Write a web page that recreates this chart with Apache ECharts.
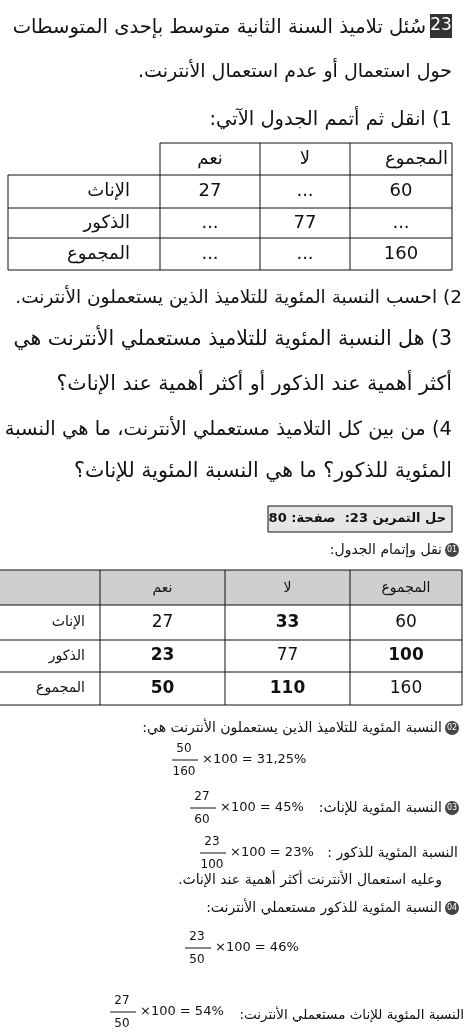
<!DOCTYPE html>
<html><head><meta charset="utf-8">
<script src="https://cdn.jsdelivr.net/npm/echarts@6/dist/echarts.min.js"></script>
<style>html,body{margin:0;padding:0;background:#fff}#c{width:468px;height:1035px}</style>
</head><body><div id="c"></div>
<script>
const headers = ['المجموع','لا','نعم'];
const rowLabels = ['الإناث','الذكور','المجموع'];
const table1 = [['60','...','27'],['...','77','...'],['160','...','...']];
const table2 = [['60','33','27'],['100','77','23'],['160','110','50']];
const boldCells2 = [[false,true,false],[true,false,true],[false,true,true]];
const questions = [
  'سُئل تلاميذ السنة الثانية متوسط بإحدى المتوسطات',
  'حول استعمال أو عدم استعمال الأنترنت.',
  '1) انقل ثم أتمم الجدول الآتي:',
  '2) احسب النسبة المئوية للتلاميذ الذين يستعملون الأنترنت.',
  '3) هل النسبة المئوية للتلاميذ مستعملي الأنترنت هي',
  'أكثر أهمية عند الذكور أو أكثر أهمية عند الإناث؟',
  '4) من بين كل التلاميذ مستعملي الأنترنت، ما هي النسبة',
  'المئوية للذكور؟ ما هي النسبة المئوية للإناث؟'
];
const F = 'DejaVu Sans';
const g = [];
const rtl = s => /[\u0600-\u06FF]/.test(s) ? '\u202B'+s+'\u202C' : s;
function txt(x,y,s,size,align,opt){g.push({type:'text',x:x,y:y,style:Object.assign({text:rtl(s),font:(opt&&opt.bold?'bold ':'')+size+'px "'+F+'"',fill:'#111',align:align||'right',verticalAlign:'middle'},opt&&opt.style||{})});}
function line(x1,y1,x2,y2,w){g.push({type:'line',shape:{x1,y1,x2,y2},style:{stroke:'#111',lineWidth:w||1}});}
function rect(x,y,w,h,fill,stroke){g.push({type:'rect',shape:{x,y,width:w,height:h},style:{fill:fill||'none',stroke:stroke||'none',lineWidth:1}});}
function frac(x,y,n,d,rest,size){
  txt(x+12,y-11,n,size-2,'center');txt(x+12,y+12,d,size-2,'center');line(x,y,x+26,y,1);
  txt(x+30,y,rest,size-1,'left');
}
rect(430,14,22,24,'#333');txt(441,26,'23',17,'center',{style:{fill:'#fff'}});
const qy=[28,72,120,298,340,385,430,472];
const qs=[19.5,19,19.5,18.5,20.5,20.5,19.5,20.5];
questions.forEach((q,i)=>txt(i==0?426:(i==3?462:452),qy[i],q,qs[i],'right'));
const c1=[8,160,260,350,452], r1=[143,175,208,238,270];
line(160,143,452,143);
for(let i=1;i<r1.length;i++) line(8,r1[i],452,r1[i]);
line(8,175,8,270);
for(let j=1;j<c1.length;j++) line(c1[j],143,c1[j],270);
headers.forEach((h,j)=>{const cx=(c1[4-j]+c1[3-j])/2;txt(j==0?448:cx,159,h,18,j==0?'right':'center');});
rowLabels.forEach((l,i)=>{txt(130,(r1[i+1]+r1[i+2])/2,l,18,'right');
  table1[i].forEach((v,j)=>txt((c1[4-j]+c1[3-j])/2,(r1[i+1]+r1[i+2])/2,v,18,'center'));});
rect(268,506,184,26,'#e6e6e6','#111');
txt(446,519,'حل التمرين 23:  صفحة: 80',13,'right',{bold:true});
function num(x,y,s){g.push({type:'circle',shape:{cx:x,cy:y,r:7},style:{fill:'#444'}});txt(x,y,s,8,'center',{style:{fill:'#fff'}});}
num(452,550,'01');txt(442,550,'نقل وإتمام الجدول:',14,'right');
const c2=[0,100,225,350,462], r2=[570,605,640,672,705];
rect(0,570,462,35,'#cfcfcf');
for(let i=0;i<r2.length;i++) line(0,r2[i],462,r2[i]);
for(let j=1;j<c2.length;j++) line(c2[j],570,c2[j],705);
headers.forEach((h,j)=>txt((c2[4-j]+c2[3-j])/2,588,h,14,'center'));
rowLabels.forEach((l,i)=>{const cy=(r2[i+1]+r2[i+2])/2;txt(85,cy,l,14,'right');
  table2[i].forEach((v,j)=>txt((c2[4-j]+c2[3-j])/2,cy,v,17,'center',{bold:boldCells2[i][j]}));});
num(452,728,'02');txt(442,728,'النسبة المئوية للتلاميذ الذين يستعملون الأنترنت هي:',14,'right');
frac(172,760,'50','160','×100 = 31,25%',14);
num(452,808,'03');txt(442,808,'النسبة المئوية للإناث:',14,'right');
frac(190,808,'27','60','×100 = 45%',14);
txt(458,853,'النسبة المئوية للذكور :',14,'right');
frac(200,853,'23','100','×100 = 23%',14);
txt(442,880,'وعليه استعمال الأنترنت أكثر أهمية عند الإناث.',14,'right');
num(452,908,'04');txt(442,908,'النسبة المئوية للذكور مستعملي الأنترنت:',14,'right');
frac(185,948,'23','50','×100 = 46%',14);
txt(464,1015,'النسبة المئوية للإناث مستعملي الأنترنت:',13.5,'right');
frac(110,1012,'27','50','×100 = 54%',14);
const chart=echarts.init(document.getElementById('c'));
chart.setOption({animation:false,graphic:{elements:g}});
</script></body></html>
